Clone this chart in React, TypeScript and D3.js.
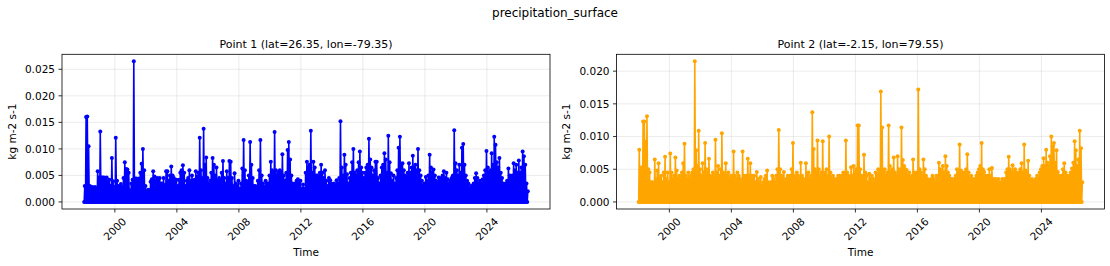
import { useEffect, useRef } from "react"
import * as d3 from "d3"

// monthly maxima, in 1e-3 kg m-2 s-1, Jan 1998 .. Aug 2026
const firstMonth = "1998-01"
const valueUnit = 1e-3
const monthlyMin = 0

const point1Max = [
  3.0, 16.0, 16.1, 10.5, 3.0, 2.5, 2.8, 2.6, 2.8, 2.5, 5.8, 4.6, // 1998
  13.3, 4.6, 4.6, 4.6, 4.5, 4.6, 3.8, 4.2, 3.0, 8.3, 3.9, 2.8, // 1999
  12.1, 4.0, 3.0, 2.6, 3.4, 2.8, 4.5, 7.5, 6.2, 6.1, 5.5, 2.2, // 2000
  3.5, 4.2, 26.5, 4.4, 4.4, 4.0, 4.4, 5.5, 7.2, 10.0, 6.0, 3.0, // 2001
  2.0, 2.3, 2.2, 3.8, 4.3, 5.8, 4.8, 4.0, 4.5, 4.2, 4.5, 3.5, // 2002
  3.5, 4.5, 3.2, 5.8, 5.8, 4.0, 5.0, 6.7, 5.0, 4.5, 3.8, 4.2, // 2003
  3.0, 4.2, 5.5, 6.0, 6.9, 5.5, 3.0, 4.0, 4.5, 6.0, 4.0, 5.0, // 2004
  4.0, 4.2, 5.8, 4.8, 5.5, 12.1, 6.0, 4.5, 13.8, 7.0, 8.4, 4.5, // 2005
  3.5, 4.0, 5.5, 8.3, 7.0, 5.0, 6.5, 4.0, 4.5, 4.0, 5.5, 7.7, // 2006
  4.5, 3.5, 5.8, 4.5, 7.7, 7.6, 4.5, 3.0, 5.4, 3.5, 3.0, 4.0, // 2007
  2.5, 3.5, 6.3, 11.7, 6.0, 4.0, 3.5, 5.0, 11.3, 7.0, 4.5, 3.0, // 2008
  3.0, 2.5, 4.0, 6.0, 11.7, 5.0, 3.5, 2.8, 4.0, 3.5, 3.5, 5.0, // 2009
  7.6, 6.0, 5.5, 13.2, 6.0, 5.0, 5.5, 6.0, 5.5, 9.0, 5.0, 4.0, // 2010
  5.5, 9.8, 11.3, 8.0, 5.0, 3.5, 3.0, 3.5, 4.0, 4.3, 3.5, 4.0, // 2011
  2.5, 3.3, 2.5, 5.5, 7.6, 6.5, 7.0, 13.4, 5.5, 7.6, 6.5, 5.0, // 2012
  5.0, 4.5, 5.5, 7.0, 5.5, 4.5, 6.0, 4.0, 3.0, 4.5, 4.1, 3.5, // 2013
  3.0, 3.5, 3.0, 4.1, 3.5, 4.5, 15.2, 6.5, 5.0, 8.9, 7.0, 5.2, // 2014
  3.5, 4.5, 5.5, 7.5, 10.0, 5.5, 5.0, 6.0, 7.5, 9.5, 6.5, 5.5, // 2015
  4.5, 5.5, 6.5, 7.0, 11.9, 8.0, 6.5, 5.0, 6.0, 7.6, 7.6, 4.5, // 2016
  3.5, 5.0, 6.5, 7.0, 9.2, 8.0, 5.5, 12.5, 7.5, 5.4, 4.0, 5.0, // 2017
  3.5, 4.5, 6.0, 10.2, 12.3, 7.0, 7.3, 6.0, 5.0, 4.5, 5.5, 7.3, // 2018
  5.5, 6.5, 8.7, 6.5, 7.0, 6.0, 10.0, 6.0, 5.0, 4.0, 3.0, 3.5, // 2019
  4.7, 4.0, 5.0, 8.9, 6.5, 5.5, 6.1, 5.0, 4.0, 3.5, 4.6, 4.0, // 2020
  4.5, 5.0, 5.8, 4.5, 5.5, 4.3, 3.5, 4.0, 4.5, 5.0, 13.5, 7.3, // 2021
  6.0, 5.0, 7.0, 5.5, 10.2, 10.9, 7.0, 5.0, 4.0, 3.5, 2.5, 3.0, // 2022
  3.0, 3.5, 4.5, 5.4, 4.5, 3.5, 4.0, 3.5, 4.3, 5.0, 6.0, 9.6, // 2023
  6.5, 5.5, 6.0, 9.2, 7.0, 12.3, 10.8, 7.5, 6.5, 8.3, 5.5, 4.5, // 2024
  3.5, 3.0, 3.5, 4.0, 6.3, 5.0, 4.5, 5.0, 7.3, 6.0, 7.0, 5.5, // 2025
  7.8, 5.5, 6.5, 9.5, 8.6, 7.0, 3.5, 2.0, // 2026
]

const point2Max = [
  8.0, 5.0, 5.3, 12.3, 12.3, 9.2, 13.1, 5.0, 4.5, 3.0, 3.0, 2.8, // 1998
  6.5, 3.5, 4.8, 5.9, 3.5, 4.0, 3.0, 4.5, 6.9, 3.5, 4.5, 3.0, // 1999
  7.4, 4.5, 3.5, 4.0, 6.8, 4.8, 3.5, 4.0, 3.5, 4.5, 5.9, 8.9, // 2000
  4.0, 3.5, 4.5, 3.5, 4.0, 4.5, 5.0, 21.5, 7.9, 5.5, 10.9, 5.0, // 2001
  4.0, 5.9, 4.5, 9.0, 5.0, 4.5, 6.6, 4.0, 3.5, 4.5, 4.0, 9.5, // 2002
  4.5, 5.5, 4.0, 5.0, 10.5, 4.5, 4.0, 5.9, 4.0, 4.5, 3.5, 4.0, // 2003
  4.0, 7.7, 4.0, 3.5, 4.5, 4.0, 3.5, 3.0, 7.7, 4.0, 3.5, 4.0, // 2004
  6.6, 4.0, 5.9, 4.0, 3.5, 4.0, 3.0, 4.6, 3.5, 3.0, 3.8, 2.5, // 2005
  3.0, 3.5, 4.0, 4.8, 3.0, 2.5, 3.0, 4.0, 3.5, 3.0, 4.0, 5.0, // 2006
  11.0, 5.0, 4.0, 3.5, 4.6, 3.0, 3.5, 4.0, 3.5, 4.0, 5.0, 9.0, // 2007
  4.0, 3.5, 4.5, 4.0, 3.5, 6.0, 4.0, 3.5, 3.0, 5.9, 4.0, 4.5, // 2008
  3.5, 4.0, 13.7, 8.1, 5.0, 4.5, 9.4, 5.0, 4.0, 4.5, 9.3, 4.0, // 2009
  4.5, 5.0, 4.0, 10.0, 4.5, 3.8, 4.0, 3.5, 3.0, 3.5, 4.0, 4.0, // 2010
  3.5, 4.0, 4.5, 4.0, 9.4, 4.5, 4.0, 3.5, 5.3, 4.0, 5.5, 4.5, // 2011
  5.0, 11.7, 11.7, 5.0, 4.0, 3.5, 7.2, 4.5, 4.0, 3.0, 4.3, 3.5, // 2012
  4.0, 3.5, 3.0, 4.5, 4.0, 5.0, 4.5, 16.9, 11.4, 4.5, 5.0, 4.0, // 2013
  4.5, 11.7, 5.5, 4.5, 5.0, 6.8, 4.5, 4.0, 7.0, 5.0, 4.5, 11.4, // 2014
  6.4, 5.5, 5.0, 4.9, 4.0, 4.5, 3.5, 4.0, 6.5, 4.5, 4.0, 4.5, // 2015
  17.2, 5.0, 4.5, 4.0, 6.5, 5.0, 4.0, 3.5, 3.4, 3.0, 3.5, 4.0, // 2016
  3.5, 3.0, 4.0, 3.5, 6.0, 5.0, 4.5, 5.5, 4.5, 7.0, 5.5, 4.5, // 2017
  4.0, 3.5, 3.5, 3.0, 3.5, 4.0, 5.0, 4.5, 8.8, 4.8, 4.5, 4.0, // 2018
  4.5, 5.0, 7.3, 4.5, 3.8, 4.0, 3.5, 3.0, 3.5, 4.0, 4.5, 5.0, // 2019
  5.5, 9.0, 5.0, 4.6, 4.0, 3.5, 4.0, 5.0, 4.0, 5.2, 3.5, 3.4, // 2020
  3.5, 3.0, 3.5, 2.9, 3.0, 3.5, 3.0, 3.5, 4.5, 5.0, 6.9, 5.0, // 2021
  4.5, 5.6, 4.5, 5.0, 4.5, 4.0, 4.5, 5.0, 5.9, 4.5, 8.8, 4.8, // 2022
  4.5, 6.3, 4.0, 3.4, 3.5, 3.2, 3.0, 3.5, 4.0, 3.5, 4.5, 5.0, // 2023
  5.5, 6.7, 5.5, 8.0, 6.0, 5.5, 7.0, 10.0, 8.5, 9.0, 6.0, 7.9, // 2024
  4.6, 4.0, 3.5, 4.0, 5.0, 5.9, 4.5, 4.0, 3.5, 4.0, 4.5, 5.1, // 2025
  6.0, 9.3, 7.9, 5.5, 6.5, 10.9, 8.2, 3.0, // 2026
]

const xTickYears = [2000, 2004, 2008, 2012, 2016, 2020, 2024]
const point1YTicks = [0, 0.005, 0.01, 0.015, 0.02, 0.025]
const point2YTicks = [0, 0.005, 0.01, 0.015, 0.02]

const panels = [
  { title: "Point 1 (lat=26.35, lon=-79.35)", values: point1Max, yTicks: point1YTicks, color: "#0000ff", left: 62, right: 550 },
  { title: "Point 2 (lat=-2.15, lon=79.55)", values: point2Max, yTicks: point2YTicks, color: "#ffa500", left: 616.5, right: 1104.5 },
]

const WIDTH = 1110
const HEIGHT = 266
const AX_TOP = 54.3
const AX_BOTTOM = 209
const FONT = "DejaVu Sans, sans-serif"

export default function App() {
  const svgRef = useRef<SVGSVGElement>(null)

  useEffect(() => {
    if (!svgRef.current) return
    const svg = d3.select(svgRef.current)
    svg.selectAll("*").remove()

    svg.append("rect").attr("width", WIDTH).attr("height", HEIGHT).attr("fill", "white")

    // figure title
    svg.append("text")
      .attr("x", WIDTH / 2)
      .attr("y", 17)
      .attr("text-anchor", "middle")
      .attr("font-family", FONT)
      .attr("font-size", 12)
      .text("precipitation_surface")

    const start = d3.timeParse("%Y-%m")(firstMonth) as Date

    panels.forEach((p) => {
      // each month: its floor, then its peak
      const points: { t: Date; v: number }[] = []
      p.values.forEach((v, i) => {
        const m = d3.timeMonth.offset(start, i)
        points.push({ t: d3.timeDay.offset(m, 7), v: monthlyMin })
        points.push({ t: d3.timeDay.offset(m, 21), v: v * valueUnit })
      })

      const [t0, t1] = d3.extent(points, (d) => d.t) as [Date, Date]
      const span = +t1 - +t0
      const x = d3
        .scaleTime()
        .domain([new Date(+t0 - span * 0.05), new Date(+t1 + span * 0.05)])
        .range([p.left, p.right])

      const vMax = d3.max(points, (d) => d.v) || 0
      const vMin = d3.min(points, (d) => d.v) || 0
      const vSpan = vMax - vMin
      const y = d3
        .scaleLinear()
        .domain([vMin - vSpan * 0.05, vMax + vSpan * 0.05])
        .range([AX_BOTTOM, AX_TOP])

      const g = svg.append("g")
      const tickDates = xTickYears.map((yr) => new Date(yr, 0, 1))

      // grid
      g.selectAll(".vgrid")
        .data(tickDates)
        .enter()
        .append("line")
        .attr("x1", (d) => x(d))
        .attr("x2", (d) => x(d))
        .attr("y1", AX_TOP)
        .attr("y2", AX_BOTTOM)
        .attr("stroke", "#b0b0b0")
        .attr("stroke-opacity", 0.3)
        .attr("stroke-width", 0.8)
      g.selectAll(".hgrid")
        .data(p.yTicks)
        .enter()
        .append("line")
        .attr("x1", p.left)
        .attr("x2", p.right)
        .attr("y1", (d) => y(d))
        .attr("y2", (d) => y(d))
        .attr("stroke", "#b0b0b0")
        .attr("stroke-opacity", 0.3)
        .attr("stroke-width", 0.8)

      // series line + point markers
      const line = d3
        .line<{ t: Date; v: number }>()
        .x((d) => x(d.t))
        .y((d) => y(d.v))
      g.append("path")
        .datum(points)
        .attr("d", line)
        .attr("fill", "none")
        .attr("stroke", p.color)
        .attr("stroke-width", 1.6)
        .attr("stroke-linejoin", "round")
      g.selectAll(".dot")
        .data(points)
        .enter()
        .append("circle")
        .attr("cx", (d) => x(d.t))
        .attr("cy", (d) => y(d.v))
        .attr("r", 2)
        .attr("fill", p.color)

      // spines
      g.append("rect")
        .attr("x", p.left)
        .attr("y", AX_TOP)
        .attr("width", p.right - p.left)
        .attr("height", AX_BOTTOM - AX_TOP)
        .attr("fill", "none")
        .attr("stroke", "black")
        .attr("stroke-width", 0.8)

      // y axis ticks
      g.selectAll(".ytick")
        .data(p.yTicks)
        .enter()
        .append("line")
        .attr("x1", p.left - 3.5)
        .attr("x2", p.left)
        .attr("y1", (d) => y(d))
        .attr("y2", (d) => y(d))
        .attr("stroke", "black")
        .attr("stroke-width", 0.8)
      g.selectAll(".ylab")
        .data(p.yTicks)
        .enter()
        .append("text")
        .attr("x", p.left - 7)
        .attr("y", (d) => y(d))
        .attr("dy", "0.35em")
        .attr("text-anchor", "end")
        .attr("font-family", FONT)
        .attr("font-size", 10.5)
        .text((d) => d3.format(".3f")(d))

      // x axis ticks, labels rotated 45
      g.selectAll(".xtick")
        .data(tickDates)
        .enter()
        .append("line")
        .attr("x1", (d) => x(d))
        .attr("x2", (d) => x(d))
        .attr("y1", AX_BOTTOM)
        .attr("y2", AX_BOTTOM + 3.5)
        .attr("stroke", "black")
        .attr("stroke-width", 0.8)
      g.selectAll(".xlab")
        .data(tickDates)
        .enter()
        .append("text")
        .attr("transform", (d) => `translate(${x(d)},${AX_BOTTOM + 20})rotate(-45)`)
        .attr("dy", "0.35em")
        .attr("text-anchor", "middle")
        .attr("font-family", FONT)
        .attr("font-size", 10.5)
        .text((d) => d3.timeFormat("%Y")(d))

      // axis labels and title
      const cx = (p.left + p.right) / 2
      g.append("text")
        .attr("x", cx)
        .attr("y", 256)
        .attr("text-anchor", "middle")
        .attr("font-family", FONT)
        .attr("font-size", 10.5)
        .text("Time")
      g.append("text")
        .attr("transform", `translate(${p.left - 50},${(AX_TOP + AX_BOTTOM) / 2})rotate(-90)`)
        .attr("dy", "0.35em")
        .attr("text-anchor", "middle")
        .attr("font-family", FONT)
        .attr("font-size", 10.5)
        .text("kg m-2 s-1")
      g.append("text")
        .attr("x", cx)
        .attr("y", AX_TOP - 6)
        .attr("text-anchor", "middle")
        .attr("font-family", FONT)
        .attr("font-size", 11)
        .text(p.title)
    })
  }, [])

  return (
    <svg
      ref={svgRef}
      width={WIDTH}
      height={HEIGHT}
      style={{ position: "absolute", left: 0, top: 0, display: "block" }}
    />
  )
}
